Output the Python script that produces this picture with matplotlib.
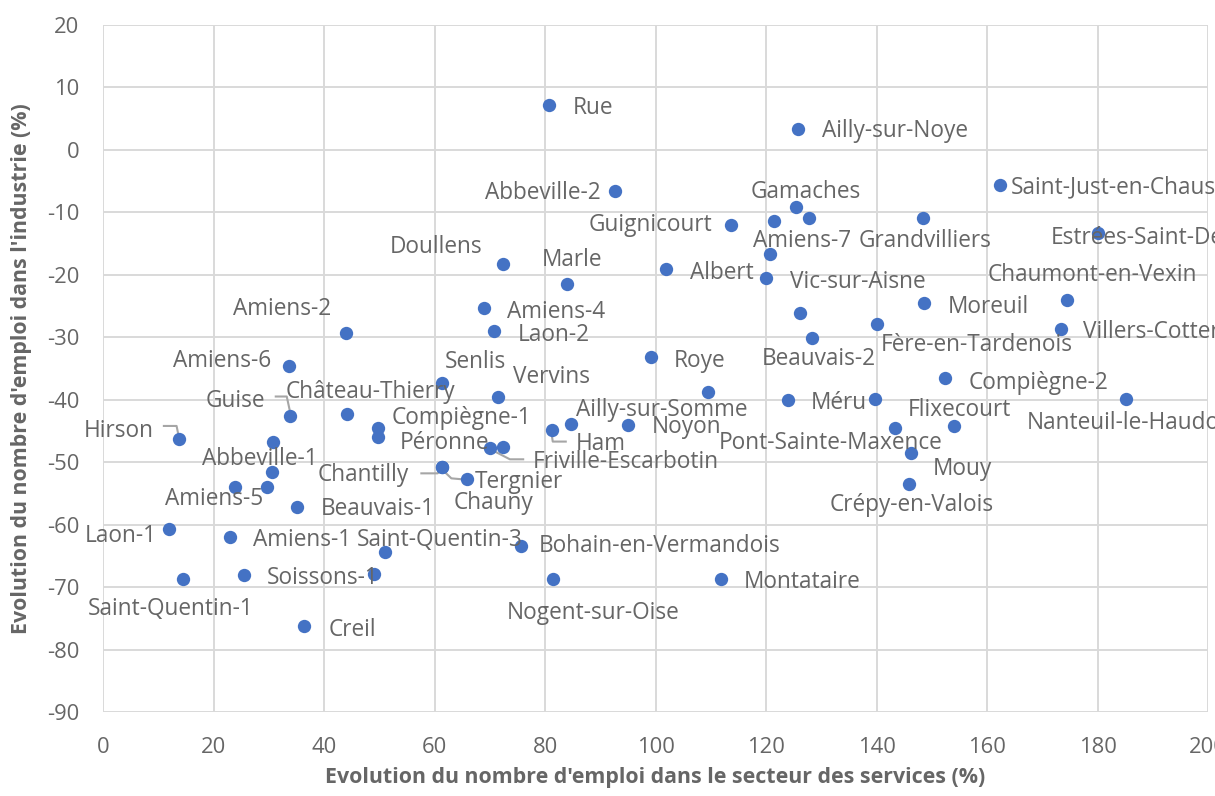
import numpy as np
import matplotlib
matplotlib.use("Agg")
import matplotlib.pyplot as plt

plt.rcParams["font.family"] = ["Open Sans", "DejaVu Sans"]
plt.rcParams["axes.unicode_minus"] = False

# Data: evolution of jobs, services (x) vs industry (y), in %
canton = [
    "Rue", "Ailly-sur-Noye", "Saint-Just-en-Chaussée", "Abbeville-2", "Gamaches",
    "", "", "Guignicourt", "Grandvilliers", "Estrées-Saint-Denis",
    "Amiens-7", "Albert", "Vic-sur-Aisne", "Doullens", "Marle",
    "Amiens-4", "Laon-2", "Amiens-2", "", "Beauvais-2",
    "Fère-en-Tardenois", "Moreuil", "Chaumont-en-Vexin", "Villers-Cotterêts", "Compiègne-2",
    "Nanteuil-le-Haudouin", "Méru", "Flixecourt", "Pont-Sainte-Maxence", "Mouy",
    "Crépy-en-Valois", "Roye", "Ailly-sur-Somme", "", "Noyon",
    "", "Ham", "Friville-Escarbotin", "", "Vervins",
    "Senlis", "Chantilly", "Tergnier", "Chauny", "Compiègne-1",
    "Péronne", "Château-Thierry", "Guise", "Amiens-6", "Hirson",
    "Abbeville-1", "", "Amiens-5", "", "Beauvais-1",
    "Laon-1", "Amiens-1", "Saint-Quentin-3", "Soissons-1", "",
    "Saint-Quentin-1", "Creil", "Bohain-en-Vermandois", "Nogent-sur-Oise", "Montataire",
]
services = [
    80.7, 125.8, 162.3, 92.6, 125.5,
    127.7, 121.4, 113.6, 148.4, 180.1,
    120.7, 101.9, 120.0, 72.4, 83.9,
    68.9, 70.7, 43.9, 126.1, 128.4,
    140.1, 148.6, 174.4, 173.4, 152.3,
    185.1, 139.7, 154.0, 143.3, 146.3,
    145.8, 99.2, 109.4, 123.9, 95.0,
    84.7, 81.2, 70.0, 72.4, 71.5,
    61.3, 61.4, 61.4, 65.8, 49.8,
    49.8, 44.1, 33.9, 33.7, 13.7,
    30.7, 30.6, 23.9, 29.6, 35.1,
    12.0, 23.0, 51.1, 25.5, 49.1,
    14.4, 36.4, 75.7, 81.4, 111.8,
]
industrie = [
    7.2, 3.4, -5.6, -6.6, -9.1,
    -10.9, -11.4, -12.0, -10.9, -13.3,
    -16.6, -19.1, -20.5, -18.2, -21.4,
    -25.3, -29.0, -29.3, -26.1, -30.1,
    -27.8, -24.5, -24.0, -28.7, -36.5,
    -39.8, -39.8, -44.2, -44.5, -48.5,
    -53.5, -33.1, -38.8, -40.0, -44.0,
    -43.9, -44.8, -47.7, -47.6, -39.5,
    -37.3, -50.7, -50.7, -52.7, -44.5,
    -46.0, -42.3, -42.5, -34.5, -46.3,
    -46.8, -51.6, -54.0, -54.0, -57.1,
    -60.7, -62.0, -64.4, -68.0, -67.8,
    -68.6, -76.2, -63.4, -68.6, -68.6,
]

x_ticks = list(range(0, 201, 20))
y_ticks = list(range(-90, 21, 10))

# label placement: pixel offset from the point and alignment
label_pos = {
    "Rue": (24, -1, "left"), "Ailly-sur-Noye": (24, 0, "left"),
    "Saint-Just-en-Chaussée": (11, 0, "left"), "Abbeville-2": (-14, 1, "right"),
    "Gamaches": (9, 17, "center"), "Guignicourt": (-18, 2, "right"),
    "Grandvilliers": (2.5, -20, "center"), "Estrées-Saint-Denis": (-47, -2, "left"),
    "Amiens-7": (-17, 15, "left"), "Albert": (24, -1.5, "left"),
    "Vic-sur-Aisne": (24, -1, "left"), "Doullens": (-21, 19, "right"),
    "Marle": (5.5, 26, "center"), "Amiens-4": (23, -1, "left"),
    "Laon-2": (24, -1, "left"), "Amiens-2": (-14, 27, "right"),
    "Beauvais-2": (6.5, -18, "center"), "Fère-en-Tardenois": (4, -18.5, "left"),
    "Moreuil": (24, -1, "left"), "Chaumont-en-Vexin": (25.5, 27, "center"),
    "Villers-Cotterêts": (22, 0, "left"), "Compiègne-2": (24.5, -2, "left"),
    "Nanteuil-le-Haudouin": (-99, -22, "left"), "Méru": (-8, -2, "right"),
    "Flixecourt": (5.5, 19, "center"), "Pont-Sainte-Maxence": (48, -12, "right"),
    "Mouy": (21.5, -13, "left"), "Crépy-en-Valois": (3, -18, "center"),
    "Roye": (23, -1.5, "left"), "Ailly-sur-Somme": (-45.7, -14.7, "center"),
    "Noyon": (24, 0, "left"), "Ham": (24, -12, "left"),
    "Friville-Escarbotin": (43, -11, "left"), "Vervins": (53, 22, "center"),
    "Senlis": (34, 24, "center"), "Chantilly": (-33, -6, "right"),
    "Tergnier": (32, -13, "left"), "Chauny": (27, -21, "center"),
    "Compiègne-1": (13.7, 13, "left"), "Péronne": (21.7, -2.7, "left"),
    "Château-Thierry": (24, 25, "center"), "Guise": (-25, 17, "right"),
    "Amiens-6": (-18, 7, "right"), "Hirson": (-25, 11, "right"),
    "Abbeville-1": (-13, -14, "center"), "Amiens-5": (-21.5, -9, "center"),
    "Beauvais-1": (24, 0, "left"), "Laon-1": (-13, -4, "right"),
    "Amiens-1": (23, 0, "left"), "Saint-Quentin-3": (54, 15, "center"),
    "Soissons-1": (23, -1, "left"), "Saint-Quentin-1": (-12, -28, "center"),
    "Creil": (24, -1, "left"), "Bohain-en-Vermandois": (17, 3, "left"),
    "Nogent-sur-Oise": (40.5, -32, "center"), "Montataire": (23, -1, "left"),
}

# leader lines, pixel offsets from the point
leaders = {
    "Hirson": [(-15, 13.3), (-2.3, 13.3), (0, 2)],
    "Guise": [(-14.7, 19), (-3.7, 19), (-0.7, 5)],
    "Ham": [(0, -5), (1, -11.7), (14, -11.7)],
    "Friville-Escarbotin": [(4, -3), (20, -11.3), (33.3, -11.3)],
    "Chantilly": [(-21, -6.6), (-4.7, -6.6), (-0.7, -2.3)],
    "Tergnier": [(20.3, -12.6), (9, -11.6), (0.3, -3.3)],
}

TXT = "#666666"
GRID = "#d9d9d9"
BLUE = "#4472C4"

fig = plt.figure(figsize=(12.15, 7.96), dpi=100)
ax = fig.add_axes([103.2 / 1215, 1 - 712.3 / 796, (1208 - 103.2) / 1215, (712.3 - 25) / 796])

ax.set_xlim(0, 200)
ax.set_ylim(-90, 20)
ax.set_xticks(x_ticks)
ax.set_yticks(y_ticks)
ax.grid(True, color=GRID, lw=1.4)
ax.set_axisbelow(True)
for s in ax.spines.values():
    s.set_visible(False)
ax.tick_params(length=0, labelsize=15.8, labelcolor=TXT)
ax.tick_params(axis="x", pad=18)
ax.tick_params(axis="y", pad=17)

ax.scatter(services, industrie, s=92, color=BLUE, zorder=3, linewidths=0)

for name, x, y in zip(canton, services, industrie):
    if not name:
        continue
    dx, dy, ha = label_pos[name]
    ax.annotate(name, (x, y), xytext=(dx, dy - 2.5), textcoords="offset pixels",
                ha=ha, va="center", fontsize=16.3, color=TXT, zorder=4)

for name, path in leaders.items():
    i = canton.index(name)
    base = ax.transData.transform((services[i], industrie[i]))
    pts = ax.transData.inverted().transform(base + np.array(path))
    ax.plot(pts[:, 0], pts[:, 1], color="#a6a6a6", lw=1.5, zorder=2)

ax.set_xlabel("Evolution du nombre d'emploi dans le secteur des services (%)",
              fontsize=15.4, fontweight="bold", color=TXT, va="center")
ax.xaxis.set_label_coords(0.5, -(777 - 712.3) / 687.3)
ax.set_ylabel("Evolution du nombre d'emploi dans l'industrie (%)",
              fontsize=15.4, fontweight="bold", color=TXT, va="center")
ax.yaxis.set_label_coords((22 - 103.2) / 1104.8, 0.5)

fig.savefig("out.png", dpi=100)
